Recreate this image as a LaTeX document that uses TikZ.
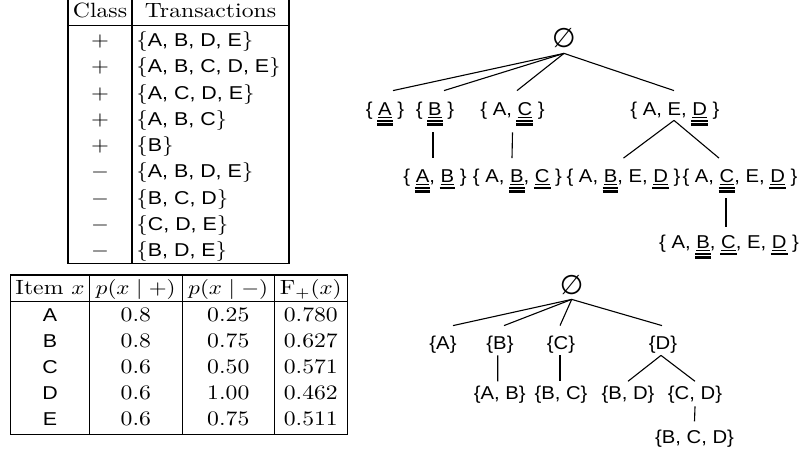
\documentclass[tikz,border=0pt]{standalone}
\usepackage{fontspec}
\setsansfont{Liberation Sans}
\newfontfamily\djv{DejaVu Sans}
\newcommand{\sfl}[1]{{\fontsize{9.3}{11}\selectfont\sffamily #1}}
\newcommand{\uS}[1]{\setbox0\hbox{#1}\rlap{\rule[-0.8pt]{\wd0}{0.35pt}}\rlap{\kern-0.5pt\rule[-3.0pt]{\dimexpr\wd0+1pt\relax}{1.2pt}}\copy0\relax}
\newcommand{\uD}[1]{\setbox0\hbox{#1}\rlap{\rule[-0.8pt]{\wd0}{0.35pt}}\rlap{\kern-0.5pt\rule[-3.0pt]{\dimexpr\wd0+1pt\relax}{1.2pt}}\rlap{\kern-0.5pt\rule[-4.9pt]{\dimexpr\wd0+1pt\relax}{1.2pt}}\copy0\relax}
\begin{document}
\begin{tikzpicture}[x=0.5pt,y=-0.5pt,
  every node/.style={font=\fontsize{10.3}{12}\selectfont},
  txt/.style={inner sep=0pt, anchor=base, xscale=1.15},
  txtw/.style={inner sep=0pt, anchor=base west, xscale=1.15},
  tline/.style={line width=0.6pt},
  tn/.style={inner sep=0pt, anchor=base, xscale=1.09, font=\fontsize{9.3}{11}\selectfont\sffamily},
  rootnode/.style={inner sep=0pt, anchor=center, font=\fontsize{13.5}{15}\selectfont\djv},
  conn/.style={line width=0.55pt}]
\useasboundingbox (0,0) rectangle (802,458);

% ---------- table 1 ----------
\draw[tline] (68,0) -- (68,263.3) -- (289,263.3) -- (289,0);
\draw[tline] (132,0) -- (132,263.3);
\draw[tline] (68,25.5) -- (289,25.5);
\node[txt] (hc) at (100,17.3) {Class};
\node[txt] (ht) at (210.5,17.3) {Transactions};
\node[txt] (c1) at (100,46.7) {$+$};
\node[txt] (c2) at (100,72.95) {$+$};
\node[txt] (c3) at (100,99.2) {$+$};
\node[txt] (c4) at (100,125.45) {$+$};
\node[txt] (c5) at (100,151.7) {$+$};
\node[txt] (c6) at (100,177.95) {$-$};
\node[txt] (c7) at (100,204.2) {$-$};
\node[txt] (c8) at (100,230.45) {$-$};
\node[txt] (c9) at (100,256.7) {$-$};
\node[txtw] (x1) at (136,46.7) {$\{$\sfl{A, B, D, E}$\}$};
\node[txtw] (x2) at (136,72.95) {$\{$\sfl{A, B, C, D, E}$\}$};
\node[txtw] (x3) at (136,99.2) {$\{$\sfl{A, C, D, E}$\}$};
\node[txtw] (x4) at (136,125.45) {$\{$\sfl{A, B, C}$\}$};
\node[txtw] (x5) at (136,151.7) {$\{$\sfl{B}$\}$};
\node[txtw] (x6) at (136,177.95) {$\{$\sfl{A, B, D, E}$\}$};
\node[txtw] (x7) at (136,204.2) {$\{$\sfl{B, C, D}$\}$};
\node[txtw] (x8) at (136,230.45) {$\{$\sfl{C, D, E}$\}$};
\node[txtw] (x9) at (136,256.7) {$\{$\sfl{B, D, E}$\}$};

% ---------- table 2 ----------
\draw[tline] (10.7,275) rectangle (347.3,434.3);
\draw[tline] (89.3,275) -- (89.3,434.3);
\draw[tline] (182.3,275) -- (182.3,434.3);
\draw[tline] (274.3,275) -- (274.3,434.3);
\draw[tline] (10.7,301.7) -- (347.3,301.7);
\node[txt] (h1) at (50,295) {Item $x$};
\node[txt] (h2) at (135.8,295) {$p(x\mid +)$};
\node[txt] (h3) at (228.3,295) {$p(x\mid -)$};
\node[txt] (h4) at (310.8,295) {$\mathrm{F}_+(x)$};
\node[txt] (iA) at (50,321.7) {\sfl{A}};
\node[txt] (iB) at (50,347.7) {\sfl{B}};
\node[txt] (iC) at (50,373.7) {\sfl{C}};
\node[txt] (iD) at (50,399.7) {\sfl{D}};
\node[txt] (iE) at (50,425.7) {\sfl{E}};
\node[txt] (pA) at (135.8,321.7) {0.8};
\node[txt] (pB) at (135.8,347.7) {0.8};
\node[txt] (pC) at (135.8,373.7) {0.6};
\node[txt] (pD) at (135.8,399.7) {0.6};
\node[txt] (pE) at (135.8,425.7) {0.6};
\node[txt] (qA) at (228.3,321.7) {0.25};
\node[txt] (qB) at (228.3,347.7) {0.75};
\node[txt] (qC) at (228.3,373.7) {0.50};
\node[txt] (qD) at (228.3,399.7) {1.00};
\node[txt] (qE) at (228.3,425.7) {0.75};
\node[txt] (fA) at (310.8,321.7) {0.780};
\node[txt] (fB) at (310.8,347.7) {0.627};
\node[txt] (fC) at (310.8,373.7) {0.571};
\node[txt] (fD) at (310.8,399.7) {0.462};
\node[txt] (fE) at (310.8,425.7) {0.511};

% ---------- tree 1 ----------
\node[rootnode, minimum height=15pt] (r1) at (564,38) {∅};
\node[tn, text height=12.5pt, text depth=8pt] (t1a) at (385,116) {\{ \uD{A} \}};
\node[tn, text height=12.5pt, text depth=8pt] (t1b) at (435,116) {\{ \uD{B} \}};
\node[tn, text height=12.5pt, text depth=8pt] (t1c) at (512.5,116) {\{ A, \uD{C} \}};
\node[tn, text height=12.5pt, text depth=2pt] (t1d) at (675,116) {\{ A, E, \uD{D} \}};
\node[tn, text height=12.25pt, text depth=7.5pt] (t2a) at (435,183) {\{ \uD{A}, \uS{B} \}};
\node[tn, text height=12.25pt, text depth=7.5pt] (t2b) at (517.5,183) {\{ A, \uD{B}, \uS{C} \}};
\node[tn, text height=12.25pt, text depth=7.5pt] (t2c) at (623.5,183) {\{ A, \uD{B}, E, \uS{D} \}};
\node[tn, text height=12.25pt, text depth=7.5pt] (t2d) at (740,183) {\{ A, \uD{C}, E, \uS{D} \}};
\node[tn, text height=11pt, text depth=7.5pt] (t3a) at (729,249) {\{ A, \uD{B}, \uS{C}, E, \uS{D} \}};
\draw[conn] (r1.south) -- ([xshift=4pt]t1a.north);
\draw[conn] (r1.south) -- ([xshift=4.5pt]t1b.north);
\draw[conn] (r1.south) -- ([xshift=2.25pt]t1c.north);
\draw[conn] (r1.south) -- ([xshift=-0.5pt]t1d.north);
\draw[conn] ([xshift=-1pt]t1b.south) -- ([xshift=-1pt]t2a.north);
\draw[conn] (t1c.south) -- ([xshift=-2.75pt]t2b.north);
\draw[conn] ([xshift=-0.5pt]t1d.south) -- (t2c.north);
\draw[conn] ([xshift=-0.5pt]t1d.south) -- ([xshift=-10.5pt]t2d.north);
\draw[conn] ([xshift=-7pt]t2d.south) -- ([xshift=-1.5pt]t3a.north);

% ---------- tree 2 ----------
\node[rootnode, minimum height=14pt] (r2) at (571.7,285) {∅};
\node[tn, text height=12pt, text depth=2.5pt] (u1a) at (443,350) {\{A\}};
\node[tn, text height=12pt, text depth=2.5pt] (u1b) at (500,350) {\{B\}};
\node[tn, text height=12pt, text depth=2.5pt] (u1c) at (561,350) {\{C\}};
\node[tn, text height=12pt, text depth=2.5pt] (u1d) at (663,350) {\{D\}};
\node[tn, text height=9.15pt, text depth=3pt] (u2a) at (499.7,400) {\{A, B\}};
\node[tn, text height=9.15pt, text depth=3pt] (u2b) at (561,400) {\{B, C\}};
\node[tn, text height=9.15pt, text depth=3pt] (u2c) at (628,400) {\{B, D\}};
\node[tn, text height=9.15pt, text depth=3pt] (u2d) at (695,400) {\{C, D\}};
\node[tn, text height=10.8pt, text depth=3pt] (u3a) at (694.5,443.3) {\{B, C, D\}};
\draw[conn] (r2.south) -- ([xshift=5pt]u1a.north);
\draw[conn] (r2.south) -- ([xshift=2pt]u1b.north);
\draw[conn] (r2.south) -- ([xshift=-0.5pt]u1c.north);
\draw[conn] (r2.south) -- ([xshift=-0.5pt]u1d.north);
\draw[conn] ([xshift=-1.15pt]u1b.south) -- ([xshift=-1pt]u2a.north);
\draw[conn] ([xshift=-0.5pt]u1c.south) -- ([xshift=-0.5pt]u2b.north);
\draw[conn] ([xshift=-1pt]u1d.south) -- (u2c.north);
\draw[conn] ([xshift=-1pt]u1d.south) -- (u2d.north);
\draw[conn] (u2d.south) -- (u3a.north);
\end{tikzpicture}
\end{document}
